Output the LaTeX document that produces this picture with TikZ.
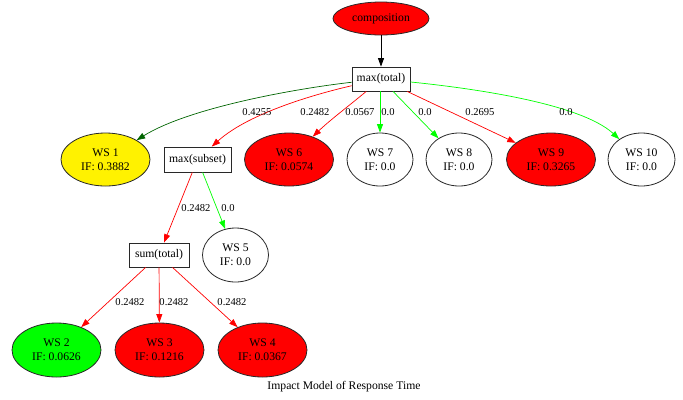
\documentclass[tikz,border=0pt]{standalone}
\usepackage{fontspec}
\setmainfont{Liberation Serif}
\usetikzlibrary{shapes.geometric,arrows.meta}
\definecolor{dkgreen}{RGB}{0,100,0}
\definecolor{brd}{RGB}{40,40,40}
\definecolor{lgreen}{RGB}{0,255,0}
\begin{document}
\begin{tikzpicture}[x=1bp,y=-1bp,
  nfont/.style={font=\fontsize{11.7}{14}\selectfont},
  ell/.style={ellipse,draw=brd,line width=0.8bp,inner sep=0pt,align=center,nfont},
  wsbig/.style={ell,minimum width=89bp,minimum height=53bp},
  wssmall/.style={ell,minimum width=66bp,minimum height=53bp},
  opbox/.style={rectangle,draw=brd,line width=0.8bp,inner sep=0pt,nfont,minimum height=24bp},
  edge/.style={line width=0.7bp,-{Triangle[length=8.5bp,width=6bp]}},
  elab/.style={font=\fontsize{10.6}{12}\selectfont,inner sep=0pt}
]
\useasboundingbox (0,0) rectangle (683,399);

% nodes
\node[ell,fill=red,minimum width=96bp,minimum height=33bp] (comp) at (381,18.5) {composition};
\node[opbox,minimum width=58bp] (mt) at (381,79) {max(total)};
\node[wsbig,fill=yellow] (ws1) at (105.5,159.5) {WS 1\\IF: 0.3882};
\node[opbox,minimum width=67bp,minimum height=25bp] (ms) at (197.5,159.5) {max(subset)};
\node[wsbig,fill=red] (ws6) at (289,159.5) {WS 6\\IF: 0.0574};
\node[wssmall,fill=white] (ws7) at (380,159.5) {WS 7\\IF: 0.0};
\node[wssmall,fill=white] (ws8) at (459,159.5) {WS 8\\IF: 0.0};
\node[wsbig,fill=red] (ws9) at (551,159.5) {WS 9\\IF: 0.3265};
\node[wssmall,fill=white,minimum width=67bp] (ws10) at (641.5,159.5) {WS 10\\IF: 0.0};
\node[opbox,minimum width=60bp] (st) at (159,255) {sum(total)};
\node[wssmall,fill=white,minimum height=54bp] (ws5) at (235.5,255) {WS 5\\IF: 0.0};
\node[wsbig,fill=lgreen,minimum height=54bp] (ws2) at (56.5,350) {WS 2\\IF: 0.0626};
\node[wsbig,fill=red,minimum height=54bp] (ws3) at (159.5,350) {WS 3\\IF: 0.1216};
\node[wsbig,fill=red,minimum height=54bp] (ws4) at (262.5,350) {WS 4\\IF: 0.0367};
\node[nfont,inner sep=0pt] (title) at (344,387) {Impact Model of Response Time};

% edges
\draw[edge,black] (comp) -- (mt);
\draw[edge,dkgreen] (mt) .. controls (300,88) and (190,107) .. (ws1);
\draw[edge,red] (mt) .. controls (320,93) and (250,112) .. (ms);
\draw[edge,red] (mt) .. controls (350,105) and (330,120) .. (ws6);
\draw[edge,lgreen] (mt.south -| ws7) -- (ws7);
\draw[edge,lgreen] (mt) -- (ws8);
\draw[edge,red] (mt) -- (ws9);
\draw[edge,lgreen] (mt) .. controls (470,88) and (580,103) .. (ws10);
\draw[edge,red] (ms) -- (st);
\draw[edge,lgreen] (ms) -- (ws5);
\draw[edge,red] (st) -- (ws2);
\draw[edge,red] (st) -- (ws3);
\draw[edge,red] (st) -- (ws4);

% edge labels
\node[elab] (l1) at (257,112) {0.4255};
\node[elab] (l2) at (315,112) {0.2482};
\node[elab] (l3) at (360,112) {0.0567};
\node[elab] (l4) at (388,112) {0.0};
\node[elab] (l5) at (425,112) {0.0};
\node[elab] (l6) at (480,112) {0.2695};
\node[elab] (l7) at (566,112) {0.0};
\node[elab] (l8) at (196,208) {0.2482};
\node[elab] (l9) at (228,208) {0.0};
\node[elab] (l10) at (130,302) {0.2482};
\node[elab] (l11) at (174,302) {0.2482};
\node[elab] (l12) at (232,302) {0.2482};
\end{tikzpicture}
\end{document}
